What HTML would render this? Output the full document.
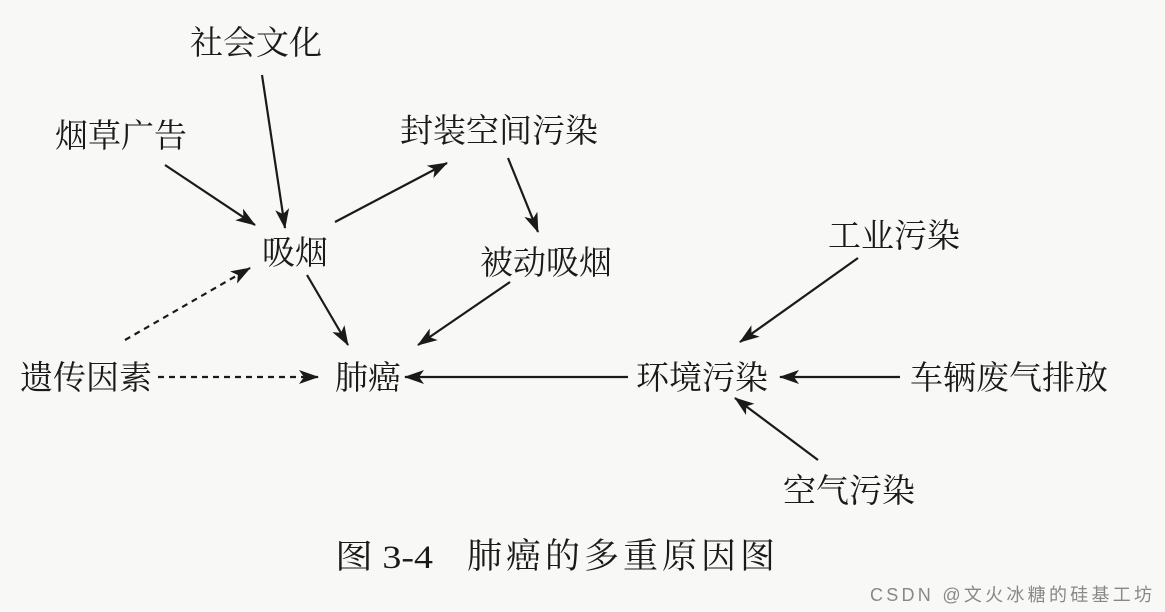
<!DOCTYPE html>
<html><head><meta charset="utf-8"><style>
html,body{margin:0;padding:0;background:#f8f8f6;}
svg{display:block}
text{font-family:"Liberation Serif","Noto Serif CJK SC",serif;fill:#1a1a1a;}
</style></head><body>
<svg width="1165" height="612" viewBox="0 0 1165 612" xmlns="http://www.w3.org/2000/svg">
<defs>
<marker id="a" viewBox="0 0 20 14" refX="19" refY="7" markerWidth="20" markerHeight="14" markerUnits="userSpaceOnUse" orient="auto">
<path d="M0,0 L20,7 L0,14 L5,7 Z" fill="#1a1a1a"/>
</marker>
</defs>
<rect width="1165" height="612" fill="#f8f8f6"/>
<g font-size="33">
<text x="190" y="54">社会文化</text>
<text x="55" y="147">烟草广告</text>
<text x="400" y="142">封装空间污染</text>
<text x="262" y="264">吸烟</text>
<text x="480" y="274">被动吸烟</text>
<text x="828" y="247">工业污染</text>
<text x="20" y="389">遗传因素</text>
<text x="335" y="389">肺癌</text>
<text x="636" y="389">环境污染</text>
<text x="910" y="389">车辆废气排放</text>
<text x="783" y="502">空气污染</text>
</g>
<text x="335" y="568" font-size="33" textLength="98" lengthAdjust="spacingAndGlyphs">图 3-4</text>
<text x="467" y="568" font-size="35" textLength="308">肺癌的多重原因图</text>
<text x="870" y="601" font-size="18" textLength="282" style="font-family:'Liberation Sans','Noto Sans CJK SC',sans-serif;fill:#888">CSDN @文火冰糖的硅基工坊</text>
<g stroke="#1a1a1a" stroke-width="2.2" fill="none" marker-end="url(#a)">
<line x1="262" y1="75" x2="285" y2="228"/>
<line x1="165" y1="165" x2="255" y2="225"/>
<line x1="335" y1="222" x2="447" y2="163"/>
<line x1="508" y1="158" x2="538" y2="232"/>
<line x1="307" y1="275" x2="348" y2="345"/>
<line x1="510" y1="282" x2="418" y2="345"/>
<line x1="125" y1="340" x2="250" y2="268" stroke-dasharray="6,5"/>
<line x1="158" y1="377" x2="318" y2="377" stroke-dasharray="6,5"/>
<line x1="628" y1="377" x2="405" y2="377"/>
<line x1="858" y1="258" x2="740" y2="342"/>
<line x1="900" y1="377" x2="780" y2="377"/>
<line x1="818" y1="460" x2="735" y2="398"/>
</g>
</svg>
</body></html>
